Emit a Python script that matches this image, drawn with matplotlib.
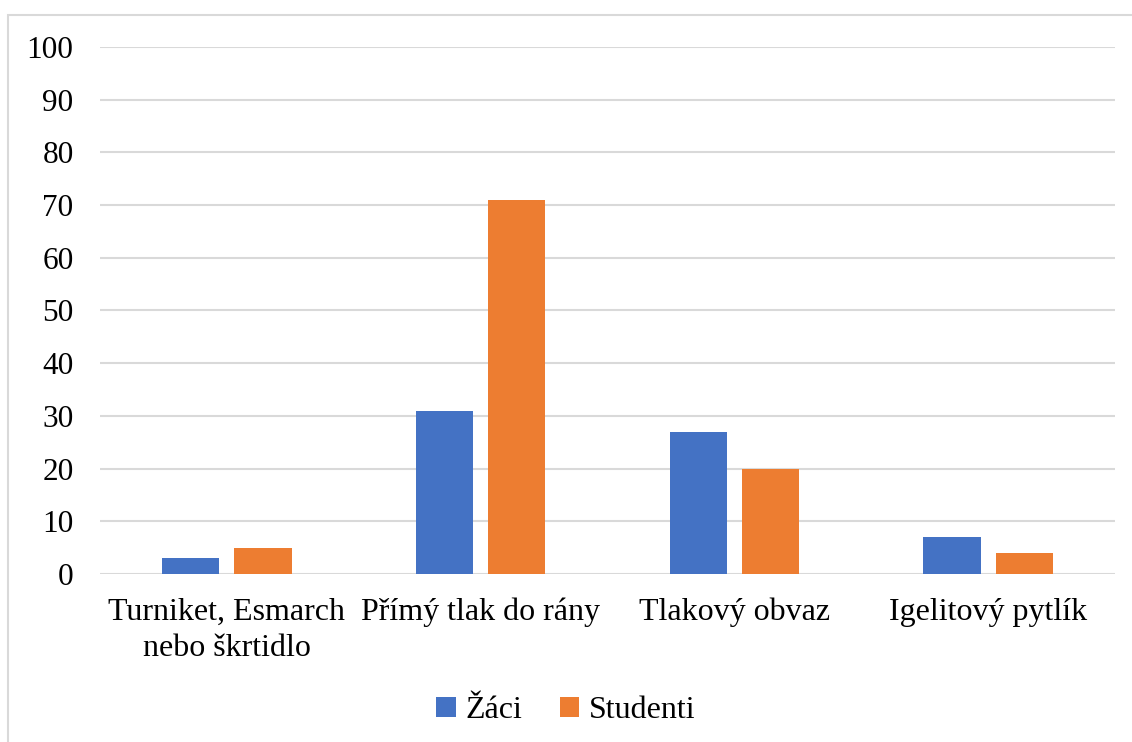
import matplotlib.pyplot as plt
import numpy as np
from matplotlib.patches import Rectangle

categories = ['Turniket, Esmarch\nnebo škrtidlo', 'Přímý tlak do rány', 'Tlakový obvaz', 'Igelitový pytlík']
zaci = [3, 31, 27, 7]
studenti = [5, 71, 20, 4]
yticks = [0, 10, 20, 30, 40, 50, 60, 70, 80, 90, 100]

plt.rcParams['font.family'] = ['Liberation Serif', 'DejaVu Serif']

fig = plt.figure(figsize=(11.32, 7.42), dpi=100)
ax = fig.add_axes([0.0883, 0.2264, 0.8967, 0.7103])

# light outer frame like the exported chart
fig.patches.append(Rectangle((8 / 1132, -0.05), 1.2, (742 - 15) / 742 + 0.05,
                             transform=fig.transFigure, fill=False,
                             edgecolor='#d9d9d9', linewidth=1.5))

x = np.arange(len(categories))
w = 0.225
gap = 0.06
ax.bar(x - (w + gap) / 2, zaci, w, color='#4472c4', label='Žáci', zorder=3)
ax.bar(x + (w + gap) / 2, studenti, w, color='#ed7d31', label='Studenti', zorder=3)

ax.set_xlim(-0.5, len(categories) - 0.5)
ax.set_ylim(0, 100)
ax.set_yticks(yticks)
ax.set_xticks(x)
ax.set_xticklabels(categories, fontsize=23, linespacing=1.35)
ax.tick_params(axis='y', labelsize=22.5, length=0, pad=19)
ax.tick_params(axis='x', length=0, pad=17)
ax.grid(axis='y', color='#d9d9d9', linewidth=1.5, zorder=0)
for s in ax.spines.values():
    s.set_visible(False)

fig.legend(loc='center', bbox_to_anchor=(0.5, 1 - 711 / 742), ncol=2, frameon=False,
           fontsize=23, handlelength=0.6, handleheight=0.6, handletextpad=0.3,
           columnspacing=1.2)

fig.savefig('out.png', dpi=100)
